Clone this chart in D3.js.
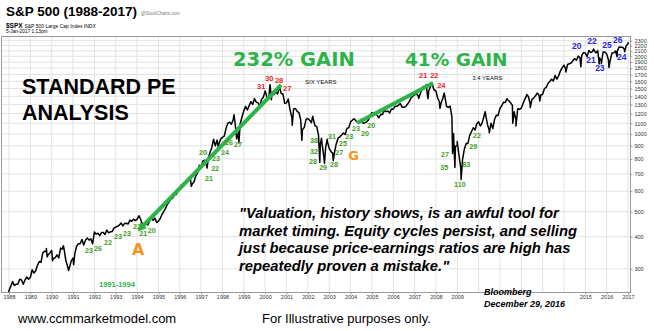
<!DOCTYPE html>
<html>
<head>
<meta charset="utf-8">
<script src="https://cdn.jsdelivr.net/npm/d3@7"></script>
<style>
body { margin: 0; background: #fff; }
svg { display: block; font-family: "Liberation Sans", Arial, sans-serif; }
</style>
</head>
<body>
<div class="chart"></div>
<script>
// S&P 500 month-end closes, one row per year: [year, Jan .. Dec]
var monthEnd = [
    [1988, 257.07, 267.82, 258.89, 261.33, 262.16, 273.50, 272.02, 261.52, 271.91, 278.97, 273.70, 277.72],
    [1989, 297.47, 288.86, 294.87, 309.64, 320.52, 317.98, 346.08, 351.45, 349.15, 340.36, 345.99, 353.40],
    [1990, 329.08, 331.89, 339.94, 330.80, 361.23, 358.02, 356.15, 322.56, 306.05, 304.00, 322.22, 330.22],
    [1991, 343.93, 367.07, 375.22, 375.35, 389.83, 371.16, 387.81, 395.43, 387.86, 392.46, 375.22, 417.09],
    [1992, 408.79, 412.70, 403.69, 414.95, 415.35, 408.14, 424.21, 414.03, 417.80, 418.68, 431.35, 435.71],
    [1993, 438.78, 443.38, 451.67, 440.19, 450.19, 450.53, 448.13, 463.56, 458.93, 467.83, 461.79, 466.45],
    [1994, 481.61, 467.14, 445.77, 450.91, 456.50, 444.27, 458.26, 475.49, 462.69, 472.35, 453.69, 459.27],
    [1995, 470.42, 487.39, 500.71, 514.71, 533.40, 544.75, 562.06, 561.88, 584.41, 581.50, 605.37, 615.93],
    [1996, 636.02, 640.43, 645.50, 654.17, 669.12, 670.63, 639.95, 651.99, 687.33, 705.27, 757.02, 740.74],
    [1997, 786.16, 790.82, 757.12, 801.34, 848.28, 885.14, 954.29, 899.47, 947.28, 914.62, 955.40, 970.43],
    [1998, 980.28, 1049.34, 1101.75, 1111.75, 1090.82, 1133.84, 1120.67, 957.28, 1017.01, 1098.67, 1163.63, 1229.23],
    [1999, 1279.64, 1238.33, 1286.37, 1335.18, 1301.84, 1372.71, 1328.72, 1320.41, 1282.71, 1362.93, 1388.91, 1469.25],
    [2000, 1394.46, 1366.42, 1498.58, 1452.43, 1420.60, 1454.60, 1430.83, 1517.68, 1436.51, 1429.40, 1314.95, 1320.28],
    [2001, 1366.01, 1239.94, 1160.33, 1249.46, 1255.82, 1224.42, 1211.23, 1133.58, 1040.94, 1059.78, 1139.45, 1148.08],
    [2002, 1130.20, 1106.73, 1147.39, 1076.92, 1067.14, 989.82, 911.62, 916.07, 815.28, 885.76, 936.31, 879.82],
    [2003, 855.70, 841.15, 848.18, 916.92, 963.59, 974.50, 990.31, 1008.01, 995.97, 1050.71, 1058.20, 1111.92],
    [2004, 1131.13, 1144.94, 1126.21, 1107.30, 1120.68, 1140.84, 1101.72, 1104.24, 1114.58, 1130.20, 1173.82, 1211.92],
    [2005, 1181.27, 1203.60, 1180.59, 1156.85, 1191.50, 1191.33, 1234.18, 1220.33, 1228.81, 1207.01, 1249.48, 1248.29],
    [2006, 1280.08, 1280.66, 1294.83, 1310.61, 1270.09, 1270.20, 1276.66, 1303.82, 1335.85, 1377.94, 1400.63, 1418.30],
    [2007, 1438.24, 1406.82, 1420.86, 1482.37, 1530.62, 1503.35, 1455.27, 1473.99, 1526.75, 1549.38, 1481.14, 1468.36],
    [2008, 1378.55, 1330.63, 1322.70, 1385.59, 1400.38, 1280.00, 1267.38, 1282.83, 1166.36, 968.75, 896.24, 903.25],
    [2009, 825.88, 735.09, 797.87, 872.81, 919.14, 919.32, 987.48, 1020.62, 1057.08, 1036.19, 1095.63, 1115.10],
    [2010, 1073.87, 1104.49, 1169.43, 1186.69, 1089.41, 1030.71, 1101.60, 1049.33, 1141.20, 1183.26, 1180.55, 1257.64],
    [2011, 1286.12, 1327.22, 1325.83, 1363.61, 1345.20, 1320.64, 1292.28, 1218.89, 1131.42, 1253.30, 1246.96, 1257.60],
    [2012, 1312.41, 1365.68, 1408.47, 1397.91, 1310.33, 1362.16, 1379.32, 1406.58, 1440.67, 1412.16, 1416.18, 1426.19],
    [2013, 1498.11, 1514.68, 1569.19, 1597.57, 1630.74, 1606.28, 1685.73, 1632.97, 1681.55, 1756.54, 1805.81, 1848.36],
    [2014, 1782.59, 1859.45, 1872.34, 1883.95, 1923.57, 1960.23, 1930.67, 2003.37, 1972.29, 2018.05, 2067.56, 2058.90],
    [2015, 1994.99, 2104.50, 2067.89, 2085.51, 2107.39, 2063.11, 2103.84, 1972.18, 1920.03, 2079.36, 2080.41, 2043.94],
    [2016, 1940.24, 1932.23, 2059.74, 2065.30, 2096.95, 2098.86, 2173.60, 2170.95, 2168.27, 2126.15, 2198.81, 2238.83]
];

// swing highs / lows between month ends: [time in years, price]
var swings = [
    [1987.93, 223.9], [1988.0, 247.08], [1989.75, 359.8], [1989.79, 333.65], [1990.04, 322.98],
    [1990.55, 368.95], [1990.79, 295.46], [1991.03, 311.49], [1994.09, 482.0], [1994.27, 438.92],
    [1996.54, 626.65], [1997.28, 737.65], [1997.82, 876.99], [1998.54, 1186.75], [1998.77, 923.32],
    [2000.23, 1552.87], [2000.29, 1356.56], [2000.67, 1530.09], [2001.27, 1081.19], [2001.72, 944.75],
    [2002.23, 1172.76], [2002.56, 775.68], [2002.64, 962.7], [2002.78, 768.63], [2002.91, 954.28],
    [2003.19, 788.9], [2007.2, 1374.1], [2007.55, 1555.9], [2007.63, 1370.6], [2007.78, 1576.09],
    [2008.19, 1256.98], [2008.39, 1440.24], [2008.78, 839.8], [2008.83, 1005.0], [2008.89, 741.02],
    [2009.0, 934.7], [2009.18, 666.79], [2010.31, 1219.8], [2010.5, 1010.91], [2011.33, 1370.58],
    [2011.6, 1101.54], [2011.75, 1074.77], [2012.25, 1422.38], [2012.42, 1266.74], [2012.87, 1343.35],
    [2014.09, 1737.92], [2014.79, 1820.66], [2015.39, 2134.72], [2015.65, 1867.01], [2015.75, 1871.91],
    [2016.11, 1810.1], [2016.49, 1991.68], [2016.84, 2083.79], [2017.01, 2269.0]
];

var yearLabels = d3.range(1988, 2018);
var priceTicks = [300, 400, 500, 600, 700, 800, 900, 1000, 1100, 1200, 1300, 1400, 1500,
    1600, 1700, 1800, 1900, 2000, 2100, 2200, 2300];
// years whose labels sit under the source note
var hiddenYears = [2010, 2011, 2012, 2013, 2014];

// P/E readings written next to the price: [time, price, text]
var peGreen = [
    [1991.56, 346, "23"], [1991.98, 352, "26"], [1992.45, 371, "22"], [1992.92, 392, "23"],
    [1993.34, 402, "23"], [1993.81, 427, "22"], [1994.10, 402, "21"], [1994.50, 413, "20"],
    [1996.90, 829, "20"], [1997.51, 786, "23"], [1997.47, 719, "22"], [1997.18, 657, "21"],
    [1997.93, 829, "24"], [1998.12, 907, "26"], [1998.54, 890, "27"],
    [2002.10, 923, "38"], [2002.10, 837, "32"], [2002.06, 765, "28"], [2002.53, 725, "29"],
    [2003.04, 745, "28"], [2002.95, 956, "31"], [2003.46, 898, "25"], [2003.28, 829, "27"],
    [2003.75, 956, "23"], [2004.07, 1027, "23"], [2004.78, 1055, "20"], [2004.49, 982, "20"],
    [2008.24, 814, "27"], [2008.20, 725, "35"], [2008.85, 623, "110"], [2009.23, 745, "83"],
    [2009.56, 875, "29"], [2009.74, 965, "22"]
];
var peRed = [
    [1999.62, 1494, "31"], [2000.0, 1605, "30"], [2000.46, 1577, "28"], [2000.84, 1468, "27"],
    [2007.21, 1649, "21"], [2007.73, 1649, "22"], [2008.06, 1508, "24"]
];
var peBlue = [
    [2014.38, 2136, "20"], [2015.09, 2234, "22"], [2015.04, 1884, "21"], [2015.46, 1755, "23"],
    [2015.79, 2154, "25"], [2016.30, 2253, "26"], [2016.49, 1935, "24"]
];

// trend arrows: [[time, price] start, [time, price] end]
var gainArrows = [
    [[1994.23, 436], [2000.75, 1549]],
    [[2004.31, 1103], [2007.87, 1577]]
];
var pointLetters = [[1993.76, 340, "A", 16], [2003.89, 793, "G", 13]];
var spanNotes = [[2001.87, 1562, "SIX YEARS"], [2009.70, 1619, "3.4 YEARS"]];

var quoteLines = [
    "\"Valuation, history shows, is an awful tool for",
    "market timing. Equity cycles persist, and selling",
    "just because price-earnings ratios are high has",
    "repeatedly proven a mistake.\""
];

var svgWidth = 654;
var svgHeight = 331;
var plot = { left: 1, right: 630, top: 36, bottom: 292 };

var svg = d3.select(".chart")
    .append("svg")
    .attr("width", svgWidth)
    .attr("height", svgHeight);

var x = d3.scaleLinear().domain([1988, 2017]).range([9, 628]);
var y = d3.scaleLog().domain([244.1, 2398]).range([plot.bottom, plot.top]);

// build the price series
var series = [];
monthEnd.forEach(function(row) {
    for (var m = 1; m <= 12; m++) {
        series.push([row[0] + m / 12, row[m]]);
    }
});
swings.forEach(function(d) { series.push(d); });
series.sort(function(a, b) { return a[0] - b[0]; });

var defs = svg.append("defs");
defs.append("clipPath")
    .attr("id", "plotClip")
    .append("rect")
    .attr("x", plot.left).attr("y", plot.top)
    .attr("width", plot.right - plot.left).attr("height", plot.bottom - plot.top);

var marker = defs.append("marker")
    .attr("id", "head")
    .attr("viewBox", "0 0 10 10")
    .attr("refX", 3).attr("refY", 5)
    .attr("markerWidth", 9).attr("markerHeight", 9)
    .attr("markerUnits", "userSpaceOnUse")
    .attr("orient", "auto-start-reverse");
marker.append("path").attr("d", "M0,0 L10,5 L0,10 z").attr("fill", "#2db34a");

// grid
var grid = svg.append("g");
grid.selectAll(".vgrid")
    .data(yearLabels)
    .enter()
    .append("line")
    .attr("x1", function(d) { return x(d); })
    .attr("x2", function(d) { return x(d); })
    .attr("y1", plot.top).attr("y2", plot.bottom)
    .attr("stroke", "#e2e2e2");
grid.selectAll(".hgrid")
    .data(priceTicks)
    .enter()
    .append("line")
    .attr("x1", plot.left).attr("x2", plot.right)
    .attr("y1", function(d) { return y(d); })
    .attr("y2", function(d) { return y(d); })
    .attr("stroke", "#e2e2e2");

svg.append("rect")
    .attr("x", plot.left + 0.5).attr("y", plot.top + 0.5)
    .attr("width", plot.right - plot.left).attr("height", plot.bottom - plot.top)
    .attr("fill", "none")
    .attr("stroke", "#9a9a9a");

// right price axis
var rightAxis = d3.axisRight(y).tickValues(priceTicks).tickSize(2).tickFormat(d3.format("d"));
svg.append("g")
    .attr("transform", "translate(" + (plot.right + 0.5) + ",0)")
    .call(rightAxis)
    .call(function(g) {
        g.select(".domain").remove();
        g.selectAll("line").attr("stroke", "#9a9a9a");
        g.selectAll("text").attr("x", 4).attr("fill", "#333").style("font-size", "5.5px").style("font-family", "Liberation Sans, Arial");
    });

// bottom year axis
var shownYears = yearLabels.filter(function(d) { return hiddenYears.indexOf(d) < 0; });
var bottomAxis = d3.axisBottom(x).tickValues(shownYears).tickSize(2).tickFormat(d3.format("d"));
svg.append("g")
    .attr("transform", "translate(0," + (plot.bottom + 0.5) + ")")
    .call(bottomAxis)
    .call(function(g) {
        g.select(".domain").remove();
        g.selectAll("line").attr("stroke", "#9a9a9a");
        g.selectAll("text").attr("y", 3).attr("fill", "#333").style("font-size", "5.5px").style("font-family", "Liberation Sans, Arial");
    });

// price line
var line = d3.line()
    .x(function(d) { return x(d[0]); })
    .y(function(d) { return y(d[1]); });

svg.append("path")
    .datum(series)
    .attr("clip-path", "url(#plotClip)")
    .attr("d", line)
    .attr("fill", "none")
    .attr("stroke", "#000")
    .attr("stroke-width", 1.5)
    .attr("stroke-linejoin", "round");

// gain arrows
svg.selectAll(".arrow")
    .data(gainArrows)
    .enter()
    .append("line")
    .attr("x1", function(d) { return x(d[0][0]); })
    .attr("y1", function(d) { return y(d[0][1]); })
    .attr("x2", function(d) { return x(d[1][0]); })
    .attr("y2", function(d) { return y(d[1][1]); })
    .attr("stroke", "#2db34a")
    .attr("stroke-width", 4)
    .attr("marker-start", function(d, i) { return i === 0 ? "url(#head)" : null; });

// P/E labels
function peText(data, color, size) {
    svg.append("g").selectAll("text")
        .data(data)
        .enter()
        .append("text")
        .attr("x", function(d) { return x(d[0]); })
        .attr("y", function(d) { return y(d[1]); })
        .attr("fill", color)
        .style("font-size", size + "px")
        .style("font-weight", "bold")
        .text(function(d) { return d[2]; });
}
peText(peGreen, "#449d22", 7.2);
peText(peRed, "#ee1c25", 7.5);
peText(peBlue, "#2424e6", 8.5);

svg.append("g").selectAll("text")
    .data(pointLetters)
    .enter()
    .append("text")
    .attr("x", function(d) { return x(d[0]); })
    .attr("y", function(d) { return y(d[1]); })
    .attr("fill", "#f7941d")
    .style("font-size", function(d) { return d[3] + "px"; })
    .style("font-weight", "bold")
    .style("font-family", "DejaVu Sans")
    .text(function(d) { return d[2]; });

svg.append("g").selectAll("text")
    .data(spanNotes)
    .enter()
    .append("text")
    .attr("x", function(d) { return x(d[0]); })
    .attr("y", function(d) { return y(d[1]); })
    .attr("fill", "#111")
    .style("font-size", "6px")
    .text(function(d) { return d[2]; });

// headline texts
svg.append("text").attr("x", 233).attr("y", 66)
    .attr("fill", "#2db34a")
    .style("font-family", "DejaVu Sans").style("font-weight", "bold").style("font-size", "19.5px")
    .text("232% GAIN");
svg.append("text").attr("x", 405).attr("y", 66)
    .attr("fill", "#2db34a")
    .style("font-family", "DejaVu Sans").style("font-weight", "bold").style("font-size", "18.5px")
    .text("41% GAIN");

svg.append("text").attr("x", 22).attr("y", 94)
    .style("font-weight", "bold").style("font-size", "21.5px")
    .text("STANDARD PE");
svg.append("text").attr("x", 22).attr("y", 120)
    .style("font-weight", "bold").style("font-size", "21.5px")
    .text("ANALYSIS");

svg.append("text").attr("x", 99).attr("y", 287)
    .attr("fill", "#2db34a")
    .style("font-weight", "bold").style("font-size", "7.5px")
    .text("1991-1994");

// quote
svg.append("g").selectAll("text")
    .data(quoteLines)
    .enter()
    .append("text")
    .attr("x", 239)
    .attr("y", function(d, i) { return 218 + i * 17.5; })
    .style("font-weight", "bold").style("font-style", "italic").style("font-size", "14.8px")
    .text(function(d) { return d; });

// source note
svg.append("text").attr("x", 484).attr("y", 295)
    .style("font-weight", "bold").style("font-style", "italic").style("font-size", "9px")
    .text("Bloomberg");
svg.append("text").attr("x", 484).attr("y", 307)
    .style("font-weight", "bold").style("font-style", "italic").style("font-size", "9px")
    .text("December 29, 2016");

// header
svg.append("text").attr("x", 6).attr("y", 16)
    .style("font-weight", "bold").style("font-size", "13.5px")
    .text("S&P 500 (1988-2017)");
svg.append("text").attr("x", 141).attr("y", 15)
    .attr("fill", "#777").style("font-size", "4.5px")
    .text("@StockCharts.com");
svg.append("text").attr("x", 6).attr("y", 28)
    .style("font-size", "5px")
    .call(function(t) {
        t.append("tspan").style("font-weight", "bold").style("font-size", "6.5px").text("$SPX ");
        t.append("tspan").text("S&P 500 Large Cap Index INDX");
    });
svg.append("text").attr("x", 6).attr("y", 33)
    .style("font-size", "4.8px")
    .text("5-Jan-2017 1:13pm");

// footer
svg.append("text").attr("x", 18).attr("y", 323)
    .style("font-size", "13px")
    .text("www.ccmmarketmodel.com");
svg.append("text").attr("x", 262).attr("y", 323)
    .style("font-size", "13px")
    .text("For Illustrative purposes only.");
</script>
</body>
</html>
